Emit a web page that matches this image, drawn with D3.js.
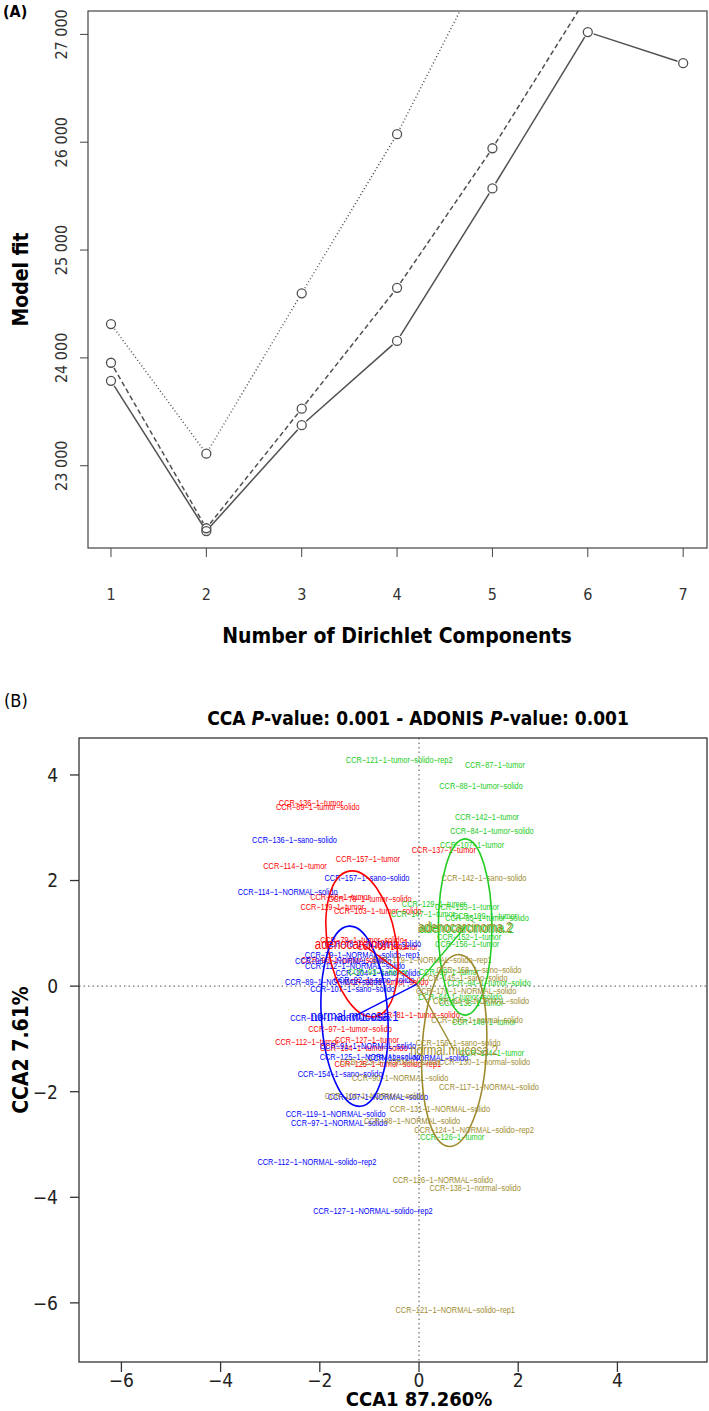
<!DOCTYPE html>
<html>
<head>
<meta charset="utf-8">
<script src="https://cdn.jsdelivr.net/npm/d3@7"></script>
<style>
  body { margin: 0; background: #fff; }
  svg { display: block; }
  text { font-family: "DejaVu Sans Condensed", "DejaVu Sans", sans-serif; }
  .narrow { font-family: "Liberation Sans", Arial, sans-serif; }
  .bold { font-weight: bold; }
</style>
</head>
<body>
<div id="chart"></div>
<script>
// ---------- panel A data: model fit per number of Dirichlet components ----------
var components = [1, 2, 3, 4, 5, 6, 7];
var fitSolid  = [23787, 22394, 23376, 24157, 25572, 27022, 26733];
var fitDashed = [23955, 22420, 23529, 24650, 25944, 27360, null];
var fitDotted = [24314, 23112, 24599, 26075, 27807, null, null];
var fitTicks = [23000, 24000, 25000, 26000, 27000];
var fitTickLabels = ["23 000", "24 000", "25 000", "26 000", "27 000"];

// ---------- panel B data: CCA sample scores [label, CCA1, CCA2] ----------
var adeno1Samples = [
  ["CCR-136-1-tumor", -2.18, 3.47],
  ["CCR-89-1-tumor-solido", -2.04, 3.39],
  ["CCR-137-1-tumor", 0.50, 2.59],
  ["CCR-157-1-tumor", -1.03, 2.41],
  ["CCR-114-1-tumor", -2.50, 2.27],
  ["CCR-78-1-tumor-solido", -0.99, 1.65],
  ["CCR-68-1-tumor", -1.59, 1.69],
  ["CCR-119-1-tumor", -1.75, 1.50],
  ["CCR-103-1-tumor-solido", -0.83, 1.42],
  ["CCR-79-1-tumor-solido", -1.15, 0.87],
  ["CCR-95-1-tumor", -0.63, 0.74],
  ["CCR-96-1-tumor-solido", -1.53, 0.49],
  ["CCR-92-1-tumor-solido", -0.65, 0.08],
  ["CCR-81-1-tumor-solido", -0.02, -0.55],
  ["CCR-97-1-tumor-solido", -1.39, -0.81],
  ["CCR-112-1-tumor", -2.26, -1.06],
  ["CCR-127-1-tumor", -1.05, -1.02],
  ["CCR-104-1-tumor-solido", -1.11, -1.17],
  ["CCR-125-1-tumor-solido-rep1", -0.63, -1.48]
];
var normal1Samples = [
  ["CCR-136-1-sano-solido", -2.51, 2.78],
  ["CCR-157-1-sano-solido", -1.05, 2.06],
  ["CCR-114-1-NORMAL-solido", -2.65, 1.78],
  ["CCR-78-1-NORMAL-solido", -0.93, 0.80],
  ["CCR-79-1-NORMAL-solido-rep1", -1.14, 0.59],
  ["CCR-96-1-NORMAL-solido", -1.53, 0.47],
  ["CCR-112-1-NORMAL-solido", -1.29, 0.38],
  ["CCR-104-1-sano-solido", -0.83, 0.25],
  ["CCR-89-1-NORMAL-solido", -1.73, 0.08],
  ["CCR-92-1-sano-solido", -0.91, 0.11],
  ["CCR-107-1-sano-solido", -1.34, -0.06],
  ["CCR-118-1-NORMAL-solido", -1.59, -0.61],
  ["CCR-91-1-NORMAL-solido", -1.03, -1.14],
  ["CCR-125-1-NORMAL-solido", -0.99, -1.34],
  ["CCR-128-1-NORMAL-solido", -0.02, -1.36],
  ["CCR-154-1-sano-solido", -1.59, -1.67],
  ["CCR-107-1-NORMAL-solido", -0.83, -2.10],
  ["CCR-119-1-NORMAL-solido", -1.68, -2.42],
  ["CCR-97-1-NORMAL-solido", -1.61, -2.59],
  ["CCR-112-1-NORMAL-solido-rep2", -2.06, -3.33],
  ["CCR-127-1-NORMAL-solido-rep2", -0.93, -4.26]
];
var adeno2Samples = [
  ["CCR-121-1-tumor-solido-rep2", -0.40, 4.28],
  ["CCR-87-1-tumor", 1.53, 4.19],
  ["CCR-88-1-tumor-solido", 1.25, 3.79],
  ["CCR-142-1-tumor", 1.37, 3.20],
  ["CCR-84-1-tumor-solido", 1.47, 2.95],
  ["CCR-107-1-tumor", 1.07, 2.67],
  ["CCR-129-1-tumor", 0.30, 1.55],
  ["CCR-153-1-tumor", 0.97, 1.50],
  ["CCR-147-1-tumor", 0.08, 1.36],
  ["CCR-109-1-tumor", 1.33, 1.34],
  ["CCR-85-1-tumor-solido", 1.37, 1.29],
  ["CCR-152-1-tumor", 1.01, 0.93],
  ["CCR-156-1-tumor", 0.97, 0.81],
  ["CCR-99-1-tumor", 0.60, 0.27],
  ["CCR-93-1-tumor", -0.83, 0.27],
  ["CCR-94-1-tumor-solido", 1.41, 0.06],
  ["CCR-64-1-tumor-solido", 0.83, -0.21],
  ["CCR-135-1-tumor", 1.05, -0.32],
  ["CCR-148-1-tumor", 1.31, -0.68],
  ["CCR-134-1-tumor", 1.47, -1.27],
  ["CCR-126-1-tumor", 0.67, -2.86]
];
var normal2Samples = [
  ["CCR-142-1-sano-solido", 1.31, 2.05],
  ["CCR-179-1-NORMAL-solido-rep1", 0.26, 0.49],
  ["CCR-158-1-sano-solido", 1.21, 0.30],
  ["CCR-145-1-sano-solido", 0.93, 0.15],
  ["CCR-170-1-NORMAL-solido", 0.95, -0.08],
  ["CCR-64-1-NORMAL-solido", 1.25, -0.27],
  ["CCR-146-1-normal-solido", 1.17, -0.64],
  ["CCR-156-1-sano-solido", 0.79, -1.08],
  ["CCR-130-1-normal-solido", 1.32, -1.44],
  ["CCR-123-1-NORMAL-solido", -0.58, -1.44],
  ["CCR-90-1-NORMAL-solido", -0.38, -1.74],
  ["CCR-117-1-NORMAL-solido", 1.41, -1.91],
  ["CCR-104-1-NORMAL-solido", -0.89, -2.08],
  ["CCR-131-1-NORMAL-solido", 0.42, -2.33],
  ["CCR-88-1-NORMAL-solido", -0.14, -2.56],
  ["CCR-124-1-NORMAL-solido-rep2", 1.11, -2.73],
  ["CCR-126-1-NORMAL-solido", 0.48, -3.67],
  ["CCR-138-1-normal-solido", 1.13, -3.83],
  ["CCR-121-1-NORMAL-solido-rep1", 0.73, -6.14]
];

// groups: centre (CCA1, CCA2), ellipse semi-axes and tilt
var groupNames = ["adenocarcinoma.1", "normal.mucosa.1", "adenocarcinoma.2", "normal.mucosa.2"];
var groupCx = [-1.15, -1.30, 0.93, 0.71];
var groupCy = [0.80, -0.57, 1.12, -1.22];
var ellipseRx = [0.69, 0.67, 0.54, 0.65];
var ellipseRy = [1.40, 1.71, 1.67, 1.82];
var ellipseTilt = [-10, -3.5, 0, 3];
var hub = [-0.04, 0.04];

var ccaTicks = [-6, -4, -2, 0, 2, 4];

var colors = ["#ff0000", "#0000ff", "#22cc22", "#9e8b2e"];
var minus = function (s) { return String(s).replace(/-/g, "\u2212"); };
var squeeze = 0.82; // R's narrow Helvetica labels

var W = 709, H = 1411;
var svg = d3.select("#chart").append("svg").attr("width", W).attr("height", H);

// ================= panel A =================
var boxA = { left: 88, right: 707, top: 11, bottom: 548 };
var xA = d3.scaleLinear().domain([0.759, 7.25]).range([boxA.left, boxA.right]);
var yA = d3.scaleLinear().domain([22237, 27217]).range([boxA.bottom, boxA.top]);

svg.append("text").attr("class", "bold").attr("x", 3).attr("y", 17)
  .style("font-size", "16px").text("(A)");

svg.append("clipPath").attr("id", "clipA").append("rect")
  .attr("x", boxA.left).attr("y", boxA.top)
  .attr("width", boxA.right - boxA.left).attr("height", boxA.bottom - boxA.top);

var gA = svg.append("g").attr("clip-path", "url(#clipA)");
var pointR = 4.5;
var lineGrey = "#505050";

function drawSeries(values, dash) {
  var pts = [];
  values.forEach(function (v, i) {
    if (v !== null) pts.push([xA(components[i]), yA(v)]);
  });
  // R type="b": segments stop short of the circles
  for (var i = 0; i < pts.length - 1; i++) {
    var a = pts[i], b = pts[i + 1];
    var dx = b[0] - a[0], dy = b[1] - a[1], len = Math.sqrt(dx * dx + dy * dy);
    var gap = pointR + 1.5;
    gA.append("line")
      .attr("x1", a[0] + dx / len * gap).attr("y1", a[1] + dy / len * gap)
      .attr("x2", b[0] - dx / len * gap).attr("y2", b[1] - dy / len * gap)
      .attr("stroke", lineGrey).attr("stroke-width", 1.5)
      .attr("stroke-dasharray", dash);
  }
  gA.selectAll(null).data(pts).enter().append("circle")
    .attr("cx", function (d) { return d[0]; }).attr("cy", function (d) { return d[1]; })
    .attr("r", pointR).attr("fill", "none").attr("stroke", lineGrey).attr("stroke-width", 1.3);
}
drawSeries(fitDotted, "1,2.5");
drawSeries(fitDashed, "5,3");
drawSeries(fitSolid, null);

svg.append("rect").attr("x", boxA.left).attr("y", boxA.top)
  .attr("width", boxA.right - boxA.left).attr("height", boxA.bottom - boxA.top)
  .attr("fill", "none").attr("stroke", "#444").attr("stroke-width", 1.2);

// y axis A (rotated labels, like R las=0)
var axYA = svg.append("g");
fitTicks.forEach(function (t, i) {
  axYA.append("line").attr("x1", boxA.left).attr("x2", boxA.left - 8)
    .attr("y1", yA(t)).attr("y2", yA(t)).attr("stroke", "#444");
  axYA.append("text").attr("transform", "translate(67," + yA(t) + ") rotate(-90)")
    .attr("text-anchor", "middle").style("font-size", "16px").attr("fill", "#333")
    .text(fitTickLabels[i]);
});
// x axis A
var axXA = svg.append("g");
components.forEach(function (c) {
  axXA.append("line").attr("x1", xA(c)).attr("x2", xA(c))
    .attr("y1", boxA.bottom).attr("y2", boxA.bottom + 9).attr("stroke", "#444");
  axXA.append("text").attr("x", xA(c)).attr("y", 600).attr("text-anchor", "middle")
    .style("font-size", "16px").attr("fill", "#333").text(c);
});

svg.append("text").attr("class", "bold").attr("x", 397).attr("y", 643)
  .attr("text-anchor", "middle").style("font-size", "21px").text("Number of Dirichlet Components");
svg.append("text").attr("class", "bold").attr("transform", "translate(28," + (boxA.top + boxA.bottom) / 2 + ") rotate(-90)")
  .attr("text-anchor", "middle").style("font-size", "21px").text("Model fit");

// ================= panel B =================
var boxB = { left: 79, right: 707, top: 738, bottom: 1362 };
var xB = d3.scaleLinear().domain([-6.855, 5.806]).range([boxB.left, boxB.right]);
var yB = d3.scaleLinear().domain([-7.12, 4.70]).range([boxB.bottom, boxB.top]);

svg.append("text").attr("x", 4).attr("y", 707).style("font-size", "18px").text("(B)");

var title = svg.append("text").attr("class", "bold").attr("x", 418).attr("y", 725)
  .attr("text-anchor", "middle").style("font-size", "19px");
title.append("tspan").text("CCA ");
title.append("tspan").style("font-style", "italic").text("P");
title.append("tspan").text("-value: 0.001 - ADONIS ");
title.append("tspan").style("font-style", "italic").text("P");
title.append("tspan").text("-value: 0.001");

svg.append("clipPath").attr("id", "clipB").append("rect")
  .attr("x", boxB.left).attr("y", boxB.top)
  .attr("width", boxB.right - boxB.left).attr("height", boxB.bottom - boxB.top);
var gB = svg.append("g").attr("clip-path", "url(#clipB)");

// zero reference lines
gB.append("line").attr("x1", boxB.left).attr("x2", boxB.right).attr("y1", yB(0)).attr("y2", yB(0))
  .attr("stroke", "#777").attr("stroke-width", 1.3).attr("stroke-dasharray", "1.5,3");
gB.append("line").attr("x1", xB(0)).attr("x2", xB(0)).attr("y1", boxB.top).attr("y2", boxB.bottom)
  .attr("stroke", "#777").attr("stroke-width", 1.3).attr("stroke-dasharray", "1.5,3");

function placeNarrow(x, y) {
  return "translate(" + x + "," + y + ") scale(" + squeeze + ",1)";
}

// sample labels
var sampleSets = [adeno1Samples, normal1Samples, adeno2Samples, normal2Samples];
sampleSets.forEach(function (set, gi) {
  gB.append("g").selectAll("text").data(set).enter().append("text")
    .attr("class", "narrow")
    .attr("transform", function (d) { return placeNarrow(xB(d[1]), yB(d[2])); })
    .attr("dy", "0.35em").attr("text-anchor", "middle")
    .style("font-size", "9px").attr("fill", colors[gi])
    .text(function (d) { return minus(d[0]); });
});

// ellipses and spider lines
groupNames.forEach(function (name, gi) {
  var cx = xB(groupCx[gi]), cy = yB(groupCy[gi]);
  gB.append("ellipse")
    .attr("cx", cx).attr("cy", cy)
    .attr("rx", xB(groupCx[gi] + ellipseRx[gi]) - cx)
    .attr("ry", cy - yB(groupCy[gi] + ellipseRy[gi]))
    .attr("transform", "rotate(" + ellipseTilt[gi] + "," + cx + "," + cy + ")")
    .attr("fill", "none").attr("stroke", colors[gi]).attr("stroke-width", 1.6);
  gB.append("line").attr("x1", xB(hub[0])).attr("y1", yB(hub[1]))
    .attr("x2", cx).attr("y2", cy)
    .attr("stroke", colors[gi]).attr("stroke-width", 1.4);
});

// group labels (adenocarcinoma.2 label shows in both green and olive)
var groupLabelColors = [colors[0], colors[1], colors[3], colors[3]];
groupNames.forEach(function (name, gi) {
  if (gi === 2) {
    gB.append("text").attr("class", "narrow")
      .attr("transform", placeNarrow(xB(groupCx[gi]) + 1.5, yB(groupCy[gi]) + 1))
      .attr("dy", "0.35em").attr("text-anchor", "middle")
      .style("font-size", "14px").attr("fill", colors[2]).text(name);
  }
  gB.append("text").attr("class", "narrow")
    .attr("transform", placeNarrow(xB(groupCx[gi]), yB(groupCy[gi])))
    .attr("dy", "0.35em").attr("text-anchor", "middle")
    .style("font-size", "14px").attr("fill", groupLabelColors[gi]).text(name);
});

svg.append("rect").attr("x", boxB.left).attr("y", boxB.top)
  .attr("width", boxB.right - boxB.left).attr("height", boxB.bottom - boxB.top)
  .attr("fill", "none").attr("stroke", "#333").attr("stroke-width", 1.3);

// axes B
var axYB = svg.append("g");
ccaTicks.forEach(function (t) {
  axYB.append("line").attr("x1", boxB.left).attr("x2", boxB.left - 9)
    .attr("y1", yB(t)).attr("y2", yB(t)).attr("stroke", "#333").attr("stroke-width", 1.3);
  axYB.append("text").attr("x", 58).attr("y", yB(t)).attr("dy", "0.36em")
    .attr("text-anchor", "end").style("font-size", "19px").attr("fill", "#222").text(minus(t));
});
var axXB = svg.append("g");
ccaTicks.forEach(function (t) {
  axXB.append("line").attr("x1", xB(t)).attr("x2", xB(t))
    .attr("y1", boxB.bottom).attr("y2", boxB.bottom + 10).attr("stroke", "#333").attr("stroke-width", 1.3);
  axXB.append("text").attr("x", xB(t)).attr("y", 1387).attr("text-anchor", "middle")
    .style("font-size", "19px").attr("fill", "#222").text(minus(t));
});

svg.append("text").attr("class", "bold").attr("x", xB(0)).attr("y", 1406)
  .attr("text-anchor", "middle").style("font-size", "20px").text("CCA1 87.260%");
svg.append("text").attr("class", "bold").attr("transform", "translate(28," + (boxB.top + boxB.bottom) / 2 + ") rotate(-90)")
  .attr("text-anchor", "middle").style("font-size", "21px").text("CCA2 7.61%");
</script>
</body>
</html>
